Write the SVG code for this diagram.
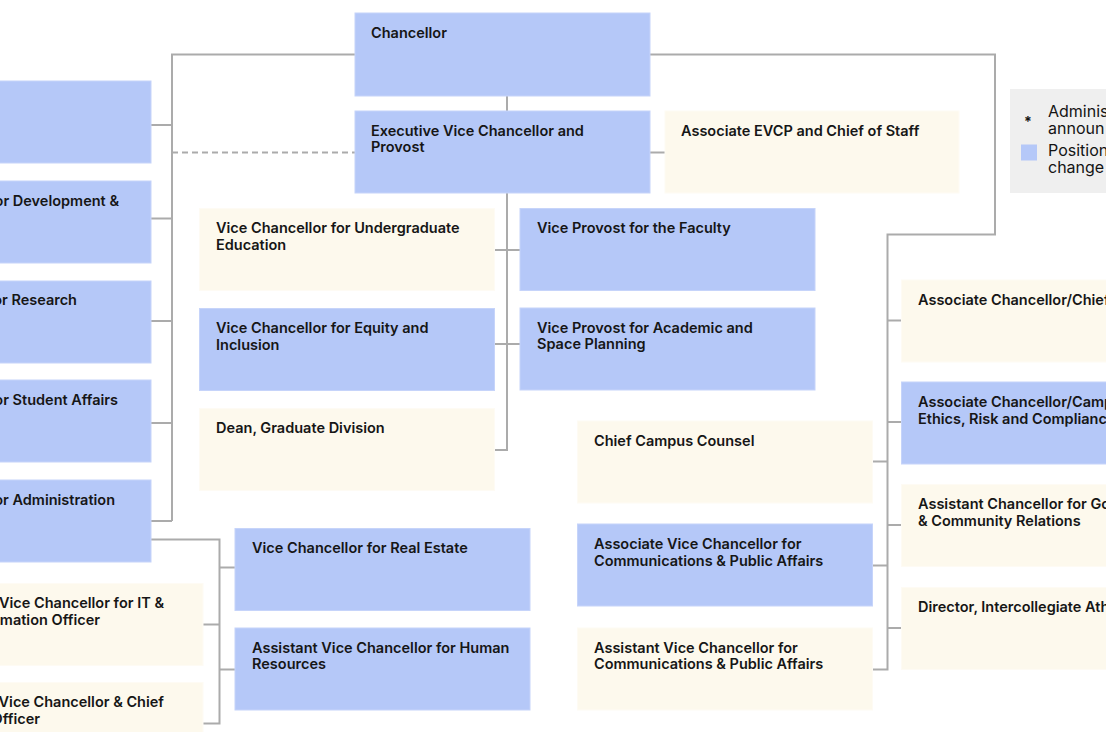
<svg xmlns="http://www.w3.org/2000/svg" width="1106" height="732" viewBox="0 0 1106 732">
<style>
.b{fill:#b5c8f8;stroke:#c6d4fa;stroke-width:1}
.c{fill:#fdf9ed;stroke:#fefbf4;stroke-width:1}
.t{font-family:Inter,"Liberation Sans",sans-serif;font-size:14.5px;font-weight:600;fill:#161616}
.e{text-anchor:end}
.l{font-family:Inter,"Liberation Sans",sans-serif;font-size:16px;font-weight:400;fill:#141414}
.k{fill:none;stroke:#ababab;stroke-width:2}
.d{fill:none;stroke:#ababab;stroke-width:2;stroke-dasharray:6 4}
</style>
<rect width="1106" height="732" fill="#ffffff"/>
<g id="connectors">
<path class="k" d="M355,54.5H172V521M151,125H172M151,218.5H172M151,321H172M151,423H172M151,521H172"/>
<path class="d" d="M172,152.5H355"/>
<path class="k" d="M507,96V111M650,152.5H665"/>
<path class="k" d="M507,193V450H494.5M494.5,250H520M494.5,344H520"/>
<path class="k" d="M650,54.5H995V234.5H887.5V669.5H873M887.5,320.5H901.5M887.5,422H901.5M887.5,461.5H873M887.5,525H901.5M887.5,565.5H873M887.5,628H901.5"/>
<path class="k" d="M151,539.5H219.5V723.5H203M219.5,567.5H235M219.5,624.5H203M219.5,669.5H235"/>
</g>
<g id="chancellor"><rect class="b" x="355" y="13" width="295" height="83"/><text class="t" x="371" y="38">Chancellor</text></g>
<g id="evcp"><rect class="b" x="355" y="111" width="295" height="82"/><text class="t" x="371" y="136">Executive Vice Chancellor and</text><text class="t" x="371" y="152">Provost</text></g>
<g id="assoc-evcp"><rect class="c" x="665" y="111" width="294" height="82"/><text class="t" x="681" y="136">Associate EVCP and Chief of Staff</text></g>
<g id="left-1"><rect class="b" x="-144" y="81" width="295" height="82"/></g>
<g id="vc-development"><rect class="b" x="-144" y="181" width="295" height="82"/><text class="t e" x="119" y="206">or Development &amp;</text></g>
<g id="vc-research"><rect class="b" x="-144" y="281" width="295" height="82"/><text class="t e" x="77" y="305">or Research</text></g>
<g id="vc-student-affairs"><rect class="b" x="-144" y="380" width="295" height="82"/><text class="t e" x="118" y="405">or Student Affairs</text></g>
<g id="vc-administration"><rect class="b" x="-144" y="480" width="295" height="82"/><text class="t e" x="115" y="505">or Administration</text></g>
<g id="vc-undergrad"><rect class="c" x="199.5" y="208.5" width="295" height="82"/><text class="t" x="216" y="233">Vice Chancellor for Undergraduate</text><text class="t" x="216" y="250">Education</text></g>
<g id="vc-equity"><rect class="b" x="199.5" y="308.5" width="295" height="82"/><text class="t" x="216" y="333">Vice Chancellor for Equity and</text><text class="t" x="216" y="350">Inclusion</text></g>
<g id="dean-grad"><rect class="c" x="199.5" y="408.5" width="295" height="82"/><text class="t" x="216" y="433">Dean, Graduate Division</text></g>
<g id="vp-faculty"><rect class="b" x="520" y="208.5" width="295" height="82"/><text class="t" x="537" y="233">Vice Provost for the Faculty</text></g>
<g id="vp-academic"><rect class="b" x="520" y="308" width="295" height="82"/><text class="t" x="537" y="333">Vice Provost for Academic and</text><text class="t" x="537" y="349">Space Planning</text></g>
<g id="chief-counsel"><rect class="c" x="577.5" y="421" width="295" height="82"/><text class="t" x="594" y="446">Chief Campus Counsel</text></g>
<g id="avc-comms"><rect class="b" x="577.5" y="524" width="295" height="82"/><text class="t" x="594" y="549">Associate Vice Chancellor for</text><text class="t" x="594" y="566">Communications &amp; Public Affairs</text></g>
<g id="asvc-comms"><rect class="c" x="577.5" y="628" width="295" height="82"/><text class="t" x="594" y="653">Assistant Vice Chancellor for</text><text class="t" x="594" y="669">Communications &amp; Public Affairs</text></g>
<g id="vc-real-estate"><rect class="b" x="235" y="528.5" width="295" height="82"/><text class="t" x="252" y="553">Vice Chancellor for Real Estate</text></g>
<g id="avc-hr"><rect class="b" x="235" y="628" width="295" height="82"/><text class="t" x="252" y="653">Assistant Vice Chancellor for Human</text><text class="t" x="252" y="669">Resources</text></g>
<g id="vc-it"><rect class="c" x="-92" y="583.5" width="295" height="82"/><text class="t e" x="164" y="608">Vice Chancellor for IT &amp;</text><text class="t e" x="100" y="625">mation Officer</text></g>
<g id="vc-cfo"><rect class="c" x="-92" y="682.5" width="295" height="82"/><text class="t e" x="164" y="707">Vice Chancellor &amp; Chief</text><text class="t e" x="40" y="724">Officer</text></g>
<g id="assoc-chancellor-chief"><rect class="c" x="901.5" y="280" width="295" height="82"/><text class="t" x="918" y="305">Associate Chancellor/Chief</text></g>
<g id="assoc-chancellor-ethics"><rect class="b" x="901.5" y="382" width="295" height="82"/><text class="t" x="918" y="407">Associate Chancellor/Camp</text><text class="t" x="918" y="424">Ethics, Risk and Complianc</text></g>
<g id="asst-chancellor-gov"><rect class="c" x="901.5" y="484.5" width="295" height="82"/><text class="t" x="918" y="509">Assistant Chancellor for Go</text><text class="t" x="918" y="526">&amp; Community Relations</text></g>
<g id="director-athletics"><rect class="c" x="901.5" y="587.5" width="295" height="82"/><text class="t" x="918" y="612">Director, Intercollegiate Ath</text></g>
<g id="legend">
<rect x="1010" y="89" width="120" height="104" fill="#efefef"/>
<text class="l" x="1028" y="127" text-anchor="middle" style="font-weight:700;font-size:14px">*</text>
<text class="l" x="1048" y="117">Adminis</text>
<text class="l" x="1048" y="134">announ</text>
<rect x="1021" y="144.5" width="16" height="16" fill="#b5c8f8"/>
<text class="l" x="1048" y="156">Position</text>
<text class="l" x="1048" y="173">change</text>
</g>
</svg>
